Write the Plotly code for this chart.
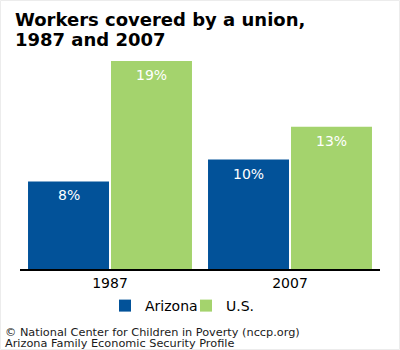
import plotly.graph_objects as go

# Share of workers covered by a union (percent)
years = ["1987", "2007"]
arizona = [8, 10]
us = [19, 13]
series_names = ["Arizona", "U.S."]
colors = ["#025299", "#a4d36d"]

title_lines = ["Workers covered by a union,", "1987 and 2007"]
source_lines = [
    "© National Center for Children in Poverty (nccp.org)",
    "Arizona Family Economic Security Profile",
]

font_family = "DejaVu Sans, Verdana, sans-serif"

# plot area spans 20..380 px horizontally and 50..269 px vertically
PL, PW, PT, PH = 20, 360, 50, 219
BARGAP = 0.078


def px_x(x):
    return (x - PL) / PW


def px_y(y):
    return (PT + PH - y) / PH


fig = go.Figure()
for i, (name, vals, col) in enumerate(zip(series_names, [arizona, us], colors)):
    fig.add_trace(go.Bar(
        x=years,
        y=vals,
        name=name,
        legend="legend" if i == 0 else "legend2",
        marker=dict(color=col, line=dict(width=0)),
        hoverinfo="skip",
    ))

annotations = []

# value labels just inside the top of each bar
# (category axis: annotation x is the category index)
slot_px = PW / len(years) * (1 - BARGAP) / len(series_names)
for i, vals in enumerate([arizona, us]):
    shift = (i - (len(series_names) - 1) / 2) * slot_px
    for j, v in enumerate(vals):
        annotations.append(dict(
            text=f"{v}%", xref="x", yref="y", x=j, y=v,
            xanchor="center", yanchor="middle", yshift=-14, xshift=shift,
            showarrow=False,
            font=dict(size=14, color="white", family=font_family),
        ))

for line, yc in zip(title_lines, [20, 40]):
    annotations.append(dict(
        text=f"<b>{line}</b>", xref="paper", yref="paper",
        x=px_x(13), y=px_y(yc), xanchor="left", yanchor="middle",
        showarrow=False,
        font=dict(size=18, color="#000000", family=font_family),
    ))
for line, yc in zip(source_lines, [332, 343]):
    annotations.append(dict(
        text=line, xref="paper", yref="paper",
        x=px_x(3), y=px_y(yc), xanchor="left", yanchor="middle",
        showarrow=False,
        font=dict(size=11.3, color="#1a1a1a", family=font_family),
    ))

legend_common = dict(
    orientation="h",
    xanchor="left",
    y=px_y(290),
    yanchor="top",
    font=dict(size=14, color="#000000", family=font_family),
    itemwidth=30,
    bgcolor="rgba(0,0,0,0)",
)

fig.update_layout(
    width=400,
    height=350,
    margin=dict(l=PL, r=400 - PL - PW, t=PT, b=350 - PT - PH, autoexpand=False),
    paper_bgcolor="white",
    plot_bgcolor="white",
    barmode="group",
    bargap=BARGAP,
    bargroupgap=0.024,
    font=dict(family=font_family, color="#000000"),
    xaxis=dict(
        type="category",
        range=[-0.5, len(years) - 0.5],
        showline=True,
        linecolor="#000000",
        linewidth=2,
        ticks="",
        tickfont=dict(size=14, color="#000000"),
        showgrid=False,
    ),
    yaxis=dict(
        range=[0, 20],
        visible=False,
        showgrid=False,
    ),
    showlegend=True,
    legend=dict(x=px_x(105), **legend_common),
    legend2=dict(x=px_x(186), **legend_common),
    annotations=annotations,
    shapes=[
        dict(type="rect", xref="paper", yref="paper",
             x0=px_x(0.5), x1=px_x(399.5), y0=px_y(349.5), y1=px_y(0.5),
             line=dict(color="#ececec", width=1), fillcolor="rgba(0,0,0,0)", layer="below")
    ],
)

fig.write_html("out.html")
